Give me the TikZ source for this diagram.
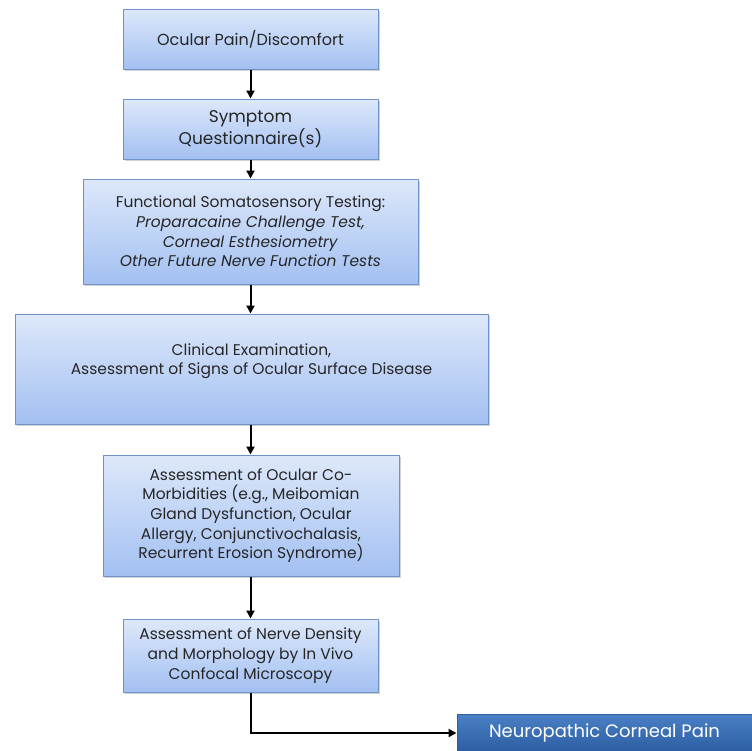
\documentclass[tikz,border=0pt]{standalone}
\usepackage{fontspec}
\setmainfont{Poppins}
\usetikzlibrary{arrows.meta,shadows}
\definecolor{boxtop}{HTML}{DDE8FA}
\definecolor{boxbot}{HTML}{A3C0F2}
\definecolor{boxline}{HTML}{6F93C9}
\definecolor{ncptop}{HTML}{4A80C6}
\definecolor{ncpbot}{HTML}{2C5DA0}
\definecolor{txt}{HTML}{262626}
\begin{document}
\begin{tikzpicture}[x=1pt, y=-1pt,
    box/.style={draw=boxline, line width=1pt, top color=boxtop, bottom color=boxbot,
        align=center, text=txt, inner sep=2pt,
        font=\fontsize{15.5}{19.7}\selectfont,
        drop shadow={shadow xshift=1.5pt, shadow yshift=-1.5pt, opacity=0.35}},
    result/.style={draw=ncpbot, top color=ncptop, bottom color=ncpbot, text=white,
        font=\fontsize{18}{22}\selectfont},
    link/.style={-{Triangle[length=8pt,width=8pt]}, line width=2pt, black}]
    % Canvas
    \useasboundingbox (0,0) rectangle (752,750);
    \fill[white] (0,0) rectangle (752,750);

    % Steps of the work-up
    \node[box, minimum width=255pt, minimum height=60pt, font=\fontsize{16}{20}\selectfont] (pain) at (250.5,39) {Ocular Pain/Discomfort};
    \node[box, minimum width=255pt, minimum height=60pt, font=\fontsize{17}{22}\selectfont] (quest) at (250.5,129) {Symptom\\Questionnaire(s)};
    \node[box, minimum width=335pt, minimum height=105pt] (func) at (250.5,231.5) {Functional Somatosensory Testing:\\\textit{Proparacaine Challenge Test,}\\\textit{Corneal Esthesiometry}\\\textit{Other Future Nerve Function Tests}};
    \node[box, minimum width=473pt, minimum height=110pt] (clin) at (251.5,369) {Clinical Examination,\\Assessment of Signs of Ocular Surface Disease\\\mbox{}};
    \node[box, minimum width=296pt, minimum height=121pt] (como) at (251,515.5) {Assessment of Ocular Co-\\Morbidities (e.g., Meibomian\\Gland Dysfunction, Ocular\\Allergy, Conjunctivochalasis,\\Recurrent Erosion Syndrome)};
    \node[box, minimum width=255pt, minimum height=73pt] (ivcm) at (250.5,655.5) {Assessment of Nerve Density\\and Morphology by In Vivo\\Confocal Microscopy};

    % Outcome
    \node[box, result, minimum width=295pt, minimum height=38pt] (ncp) at (604.5,733) {Neuropathic Corneal Pain};

    % Connectors
    \draw[link] (pain) -- (quest);
    \draw[link] (quest) -- (func);
    \draw[link] (func) -- (func |- clin.north);
    \draw[link] (func |- clin.south) -- (func |- como.north);
    \draw[link] (func |- como.south) -- (ivcm.north);
    \draw[link] (ivcm.south) |- (ncp.west);
\end{tikzpicture}
\end{document}
